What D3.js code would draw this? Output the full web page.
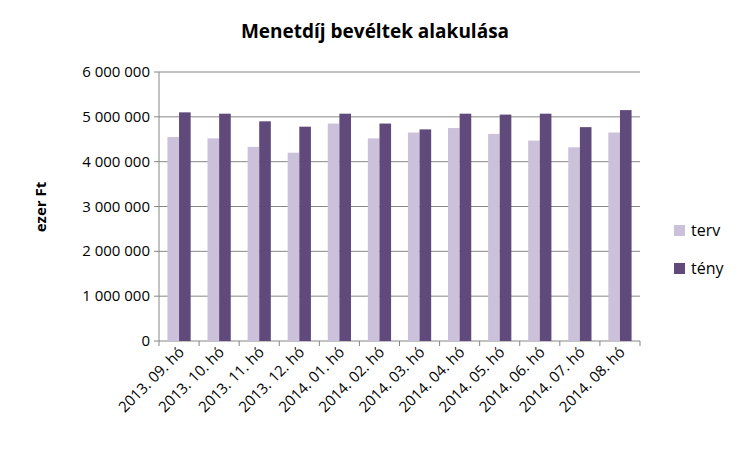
<!DOCTYPE html>
<html><head><meta charset="utf-8">
<script src="https://cdn.jsdelivr.net/npm/d3@7"></script>
<style>body{margin:0;background:#fff}text{font-family:"Open Sans","Liberation Sans",sans-serif}</style>
</head><body><svg id="c" width="750" height="450"></svg>
<script>
const categories=["2013. 09. hó","2013. 10. hó","2013. 11. hó","2013. 12. hó","2014. 01. hó","2014. 02. hó","2014. 03. hó","2014. 04. hó","2014. 05. hó","2014. 06. hó","2014. 07. hó","2014. 08. hó"];
const terv=[4550000,4520000,4330000,4200000,4850000,4520000,4650000,4750000,4620000,4470000,4320000,4650000];
const teny=[5100000,5070000,4900000,4780000,5070000,4850000,4720000,5070000,5050000,5070000,4770000,5150000];
const yTicks=[0,1000000,2000000,3000000,4000000,5000000,6000000];
const series=[{name:"terv",values:terv,color:"#CCC1DA"},{name:"tény",values:teny,color:"#604A7B"}];
const svg=d3.select("#c");
const L=159,R=640,T=72,B=341;
const x=d3.scaleBand().domain(categories).range([L,R]).paddingInner(0.42).paddingOuter(0.21);
const xs=d3.scaleBand().domain(series.map(s=>s.name)).range([0,x.bandwidth()]);
const y=d3.scaleLinear().domain([0,6000000]).range([B,T]);
const fmt=v=>d3.format(",")(v).replace(/,/g," ");
svg.append("g").selectAll("line").data(yTicks).join("line").attr("x1",L).attr("x2",R).attr("y1",d=>y(d)).attr("y2",d=>y(d)).attr("stroke","#868686");
svg.append("line").attr("x1",L).attr("x2",L).attr("y1",T).attr("y2",B).attr("stroke","#868686");
svg.append("g").selectAll("line").data(yTicks).join("line").attr("x1",L-5).attr("x2",L).attr("y1",d=>y(d)).attr("y2",d=>y(d)).attr("stroke","#868686");
svg.append("g").selectAll("text").data(yTicks).join("text").attr("x",L-9).attr("y",d=>y(d)+5).attr("text-anchor","end").attr("font-size",15).text(fmt);
series.forEach(s=>{svg.append("g").selectAll("rect").data(categories).join("rect")
 .attr("x",(c)=>x(c)+xs(s.name)).attr("width",xs.bandwidth()).attr("y",(c,i)=>y(s.values[i])).attr("height",(c,i)=>B-y(s.values[i])).attr("fill",s.color);});
const step=(R-L)/categories.length;
svg.append("g").selectAll("line").data(d3.range(categories.length+1)).join("line").attr("x1",i=>L+i*step).attr("x2",i=>L+i*step).attr("y1",B).attr("y2",B+5).attr("stroke","#868686");
svg.append("g").selectAll("text").data(categories).join("text").attr("font-size",15).attr("text-anchor","end")
 .attr("transform",c=>`translate(${x(c)+x.bandwidth()/2+6},${B+12}) rotate(-45)`).text(c=>c);
svg.append("text").attr("x",375).attr("y",38).attr("text-anchor","middle").attr("font-size",19).attr("font-weight","bold").text("Menetdíj bevéltek alakulása");
svg.append("text").attr("transform","translate(46,207) rotate(-90)").attr("text-anchor","middle").attr("font-size",15).attr("font-weight","bold").text("ezer Ft");
series.forEach((s,i)=>{const yy=231+i*38;
 svg.append("rect").attr("x",674).attr("y",yy-6).attr("width",11).attr("height",11).attr("fill",s.color);
 svg.append("text").attr("x",691).attr("y",yy+5).attr("font-size",16).text(s.name);});
</script></body></html>
